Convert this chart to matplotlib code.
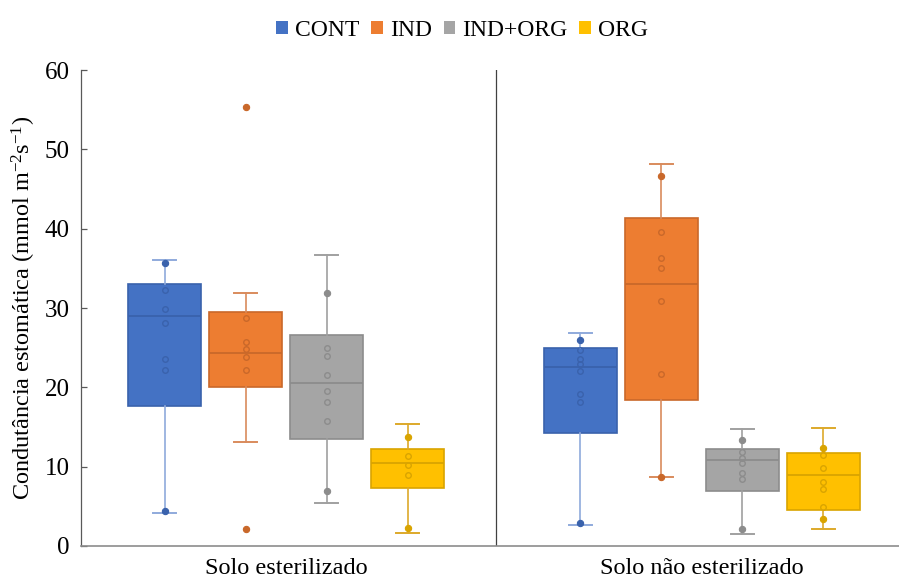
import matplotlib
matplotlib.use("Agg")
import matplotlib.pyplot as plt
from matplotlib.patches import Patch

plt.rcParams['font.family'] = ['Liberation Serif', 'DejaVu Serif']
plt.rcParams['mathtext.fontset'] = 'custom'
plt.rcParams['mathtext.rm'] = 'Liberation Serif'
plt.rcParams['mathtext.it'] = 'Liberation Serif:italic'

groups = ['Solo esterilizado', 'Solo não esterilizado']
series = ['CONT', 'IND', 'IND+ORG', 'ORG']
fill_colors = ['#4472C4', '#ED7D31', '#A5A5A5', '#FFC000']
dark_colors = ['#3A62AC', '#C9682A', '#8C8C8C', '#D9A400']
whisk_colors = ['#8FAADC', '#D98B5C', '#A0A0A0', '#DDA92A']

# box statistics [group][series]
q1 = [[17.7, 20.0, 13.5, 7.25], [14.3, 18.45, 6.9, 4.5]]
med = [[29.0, 24.3, 20.5, 10.4], [22.6, 33.0, 10.8, 9.0]]
q3 = [[33.0, 29.55, 26.6, 12.2], [24.95, 41.3, 12.2, 11.7]]
whislo = [[4.2, 13.1, 5.4, 1.6], [2.6, 8.75, 1.5, 2.2]]
whishi = [[36.1, 31.9, 36.7, 15.4], [26.8, 48.1, 14.7, 14.9]]

# inner points (hollow) and whisker/outlier points (filled)
inner_pts = [
    [[32.3, 29.9, 28.1, 23.6, 22.2],
     [28.8, 25.7, 24.8, 23.8, 22.2],
     [24.9, 23.9, 21.5, 19.5, 18.2, 15.8],
     [11.3, 10.15, 8.9]],
    [[24.65, 23.6, 23.0, 22.1, 19.2, 18.1],
     [39.6, 36.35, 35.1, 30.9, 21.7],
     [11.8, 11.07, 10.4, 9.2, 8.5],
     [11.45, 9.85, 8.1, 7.2, 4.9]],
]
outer_pts = [
    [[35.7, 4.4], [55.3, 2.1], [31.9, 6.96], [13.7, 2.3]],
    [[25.95, 2.85], [46.6, 8.75], [13.4, 2.1], [12.4, 3.35]],
]

W, H = 899, 581
fig = plt.figure(figsize=(W / 100, H / 100), dpi=100)
ax = fig.add_axes([81 / W, 1 - 546 / H, (W - 81) / W, (546 - 70) / H])

unit = 415.5
offsets = [-0.2925, -0.0975, 0.0975, 0.2925]
bw = 0.1757

for g in range(2):
    for s in range(4):
        pos = g + 0.494 + offsets[s]
        st = dict(med=med[g][s], q1=q1[g][s], q3=q3[g][s],
                  whislo=whislo[g][s], whishi=whishi[g][s], fliers=[])
        ax.bxp([st], positions=[pos], widths=bw, patch_artist=True,
               showfliers=False, capwidths=[bw * 0.32],
               boxprops=dict(facecolor=fill_colors[s], edgecolor=dark_colors[s], linewidth=1.2),
               medianprops=dict(color=dark_colors[s], linewidth=1.3),
               whiskerprops=dict(color=whisk_colors[s], linewidth=1.2),
               capprops=dict(color=whisk_colors[s], linewidth=1.4),
               zorder=2)
        ax.plot([pos] * len(inner_pts[g][s]), inner_pts[g][s], 'o',
                mfc='none', mec=dark_colors[s], ms=4, mew=1.0, zorder=3)
        ax.plot([pos] * len(outer_pts[g][s]), outer_pts[g][s], 'o',
                mfc=dark_colors[s], mec=dark_colors[s], ms=4.5, mew=0.8, zorder=3)

ax.axvline(1.0, color='#404040', linewidth=0.9, zorder=1)

ax.set_xlim(0, (W - 81) / unit)
ax.set_ylim(0, 60)
ax.set_yticks(range(0, 61, 10))
ax.set_xticks([0.494, 1.494])
ax.set_xticklabels(groups, fontsize=17.5)
ax.tick_params(axis='x', length=0, pad=9)
ax.tick_params(axis='y', direction='in', length=4.5, width=0.9, color='#595959',
               labelsize=18, pad=8)
for side in ['top', 'right']:
    ax.spines[side].set_visible(False)
ax.spines['left'].set_color('#595959')
ax.spines['left'].set_linewidth(0.9)
ax.spines['bottom'].set_color('#8C8C8C')
ax.spines['bottom'].set_linewidth(1.2)

ax.set_ylabel('Condutância estomática (mmol m$^{-2}$s$^{-1}$)', fontsize=17.5, labelpad=5)

handles = [Patch(facecolor=c, edgecolor='none') for c in fill_colors]
fig.legend(handles, series, loc='center', bbox_to_anchor=(0.514, 0.948), ncol=4,
           frameon=False, fontsize=17, handlelength=0.5, handleheight=0.5,
           handletextpad=0.3, columnspacing=0.5)

fig.savefig('out.png', dpi=100)
